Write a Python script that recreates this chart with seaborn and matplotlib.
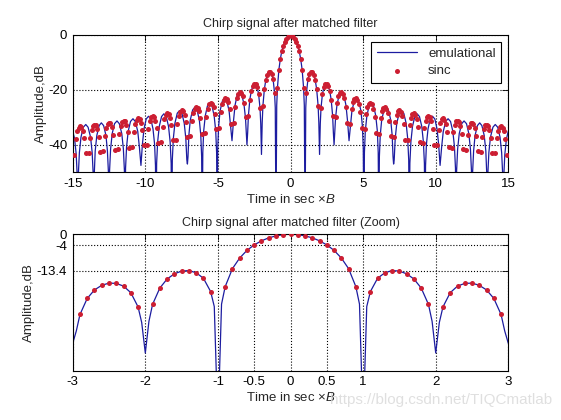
import numpy as np
import matplotlib
matplotlib.use("Agg")
import matplotlib.pyplot as plt
import seaborn as sns

nan = np.nan

# sinc samples (dB) at t = 0.0 .. 14.9, step 0.1 ; integer t are nulls (not drawn)
sinc_rows = [
    [0.0, -0.1, -0.6, -1.3, -2.4, -3.9, -5.9, -8.7, -12.6, -19.2],
    [nan, -21.0, -16.1, -14.1, -13.3, -13.5, -14.5, -16.4, -19.7, -25.7],
    [nan, -26.6, -21.4, -19.0, -18.0, -17.9, -18.7, -20.4, -23.5, -29.4],
    [nan, -30.0, -24.7, -22.2, -21.0, -20.8, -21.5, -23.1, -26.2, -32.0],
    [nan, -32.4, -27.0, -24.5, -23.2, -23.0, -23.6, -25.2, -28.2, -33.9],
    [nan, -34.3, -28.9, -26.3, -25.0, -24.8, -25.3, -26.9, -29.8, -35.6],
    [nan, -35.9, -30.4, -27.8, -26.5, -26.2, -26.8, -28.3, -31.2, -36.9],
    [nan, -37.2, -31.7, -29.0, -27.8, -27.4, -28.0, -29.5, -32.4, -38.1],
    [nan, -38.3, -32.8, -30.2, -28.9, -28.5, -29.1, -30.6, -33.4, -39.1],
    [nan, -39.3, -33.8, -31.2, -29.8, -29.5, -30.0, -31.5, -34.4, -40.1],
    [nan, -40.2, -34.7, -32.0, -30.7, -30.4, -30.9, -32.4, -35.2, -40.9],
    [nan, -41.1, -35.5, -32.8, -31.5, -31.2, -31.7, -33.1, -36.0, -41.7],
    [nan, -41.8, -36.3, -33.6, -32.2, -31.9, -32.4, -33.9, -36.7, -42.4],
    [nan, -42.5, -37.0, -34.3, -32.9, -32.6, -33.1, -34.5, -37.4, -43.0],
    [nan, -43.1, -37.6, -34.9, -33.5, -33.2, -33.7, -35.1, -38.0, -43.6],
]

# emulational curve, t >= 0 (symmetric), read lobe by lobe
emul_pos_t = [
    0.0, 0.1, 0.2, 0.3, 0.4, 0.5, 0.6, 0.7, 0.8, 0.9, 0.95, 1.0,
    1.05, 1.1, 1.2, 1.3, 1.4, 1.5, 1.6, 1.7, 1.8, 1.9, 1.95, 2.0,
    2.05, 2.1, 2.2, 2.3, 2.4, 2.5, 2.6, 2.7, 2.8, 2.9, 2.95, 3.0,
    3.1, 3.21, 3.36, 3.515, 3.67, 3.82, 3.93, 4.03,
    4.13, 4.23, 4.39, 4.54, 4.69, 4.85, 4.95, 5.01, 5.05,
    5.09, 5.15, 5.26, 5.41, 5.57, 5.72, 5.87, 5.98, 6.04, 6.08,
    6.12, 6.18, 6.28, 6.44, 6.59, 6.74, 6.90, 7.00, 7.06, 7.1,
    7.14, 7.21, 7.32, 7.48, 7.64, 7.80, 7.96, 8.07, 8.14, 8.18,
    8.22, 8.29, 8.40, 8.56, 8.72, 8.88, 9.04, 9.15, 9.22, 9.26,
    9.30, 9.36, 9.47, 9.62, 9.78, 9.94, 10.09, 10.20, 10.3,
    10.41, 10.52, 10.69, 10.85, 11.02, 11.18, 11.29, 11.36, 11.4,
    11.44, 11.51, 11.62, 11.79, 11.95, 12.12, 12.28, 12.39, 12.46, 12.5,
    12.54, 12.61, 12.71, 12.87, 13.03, 13.18, 13.34, 13.45, 13.51, 13.55,
    13.59, 13.66, 13.77, 13.94, 14.10, 14.27, 14.43, 14.54, 14.61, 14.65,
    14.69, 14.76, 14.87, 15.0,
]
emul_pos_db = [
    0.0, -0.1, -0.6, -1.3, -2.4, -3.9, -5.9, -8.7, -12.6, -19.2, -25.6, -70,
    -26.5, -21.0, -16.1, -14.1, -13.3, -13.5, -14.5, -16.4, -19.7, -25.7, -31.9, -43.5,
    -32.3, -26.6, -21.4, -19.0, -18.0, -17.9, -18.7, -20.4, -23.5, -29.4, -35.4, -40.0,
    -30.3, -25.0, -21.8, -20.8, -21.8, -25.6, -31.5, -38.5,
    -33.2, -27.6, -24.0, -23.0, -24.0, -27.6, -33.2, -41.0, -70,
    -42.8, -35.0, -29.4, -25.8, -24.8, -25.8, -29.4, -35.0, -42.8, -70,
    -44.3, -36.5, -30.9, -27.3, -26.3, -27.3, -30.9, -36.5, -44.3, -47.0,
    -45.5, -37.7, -32.1, -28.5, -27.5, -28.5, -32.1, -37.7, -45.5, -70,
    -46.7, -38.9, -33.3, -29.7, -28.7, -29.7, -33.3, -38.9, -46.7, -70,
    -47.6, -39.8, -34.2, -30.6, -29.6, -30.6, -34.2, -39.8, -47.5,
    -40.7, -35.1, -31.5, -30.5, -31.5, -35.1, -40.7, -48.5, -70,
    -49.3, -41.5, -35.9, -32.3, -31.3, -32.3, -35.9, -41.5, -49.3, -70,
    -50.0, -42.2, -36.6, -33.0, -32.0, -33.0, -36.6, -42.2, -50.0, -70,
    -50.6, -42.8, -37.2, -33.6, -32.6, -33.6, -37.2, -42.8, -50.6, -70,
    -51.2, -43.4, -37.8, -35.0,
]

sinc_pos = np.array(sinc_rows).ravel()
sinc_t = np.arange(-149, 150) / 10
sinc_db = np.concatenate([sinc_pos[:0:-1], sinc_pos])

ept = np.array(emul_pos_t)
epd = np.array(emul_pos_db)
emul_t = np.concatenate([-ept[:0:-1], ept])
emul_db = np.concatenate([epd[:0:-1], epd])

sns.set_theme(style="white")
plt.rcParams["font.family"] = ["Liberation Sans", "DejaVu Sans"]
plt.rcParams["axes.unicode_minus"] = False
plt.rcParams["mathtext.fontset"] = "custom"
plt.rcParams["mathtext.rm"] = "Liberation Sans"
plt.rcParams["mathtext.it"] = "Liberation Sans:italic"

BLUE = "#1c1ca0"
RED = "#cc1e32"

fig = plt.figure(figsize=(5.61, 4.2), dpi=100)
ax1 = fig.add_axes([0.1296, 0.5898, 0.7765, 0.3269])
ax2 = fig.add_axes([0.1296, 0.1174, 0.7765, 0.3248])


def draw(ax, legend):
    sns.lineplot(x=emul_t, y=emul_db, ax=ax, color=BLUE, lw=0.9,
                 estimator=None, sort=False,
                 label="emulational" if legend else None, legend=False)
    sns.scatterplot(x=sinc_t, y=sinc_db, ax=ax, color=RED, s=13,
                    marker="o", linewidth=0,
                    label="sinc" if legend else None, legend=False, zorder=3)
    ax.set_ylim(-50, 0)
    ax.grid(True, linestyle=":", color="black", lw=0.8)
    ax.tick_params(direction="in", top=True, right=True, length=4,
                   width=0.6, labelsize=9.5, colors="black", pad=4)
    for s in ax.spines.values():
        s.set_color("black")
        s.set_linewidth(0.8)
    ax.set_xlabel(r"Time in sec $\times\mathit{B}$", fontsize=9.5, labelpad=2)
    ax.set_ylabel("Amplitude,dB", fontsize=9.5, labelpad=1)


draw(ax1, True)
ax1.set_xlim(-15, 15)
ax1.set_xticks([-15, -10, -5, 0, 5, 10, 15])
ax1.set_yticks([-40, -20, 0])
ax1.set_title("Chirp signal after matched filter", fontsize=9, pad=6)
leg = ax1.legend(loc="upper right", bbox_to_anchor=(0.983, 0.947),
                 fontsize=9.5, fancybox=False, framealpha=1,
                 edgecolor="black", handlelength=3.1, labelspacing=0.4,
                 borderaxespad=0, markerscale=1.0)
leg.get_frame().set_linewidth(0.8)

draw(ax2, False)
ax2.set_xlim(-3, 3)
ax2.set_xticks([-3, -2, -1, -0.5, 0, 0.5, 1, 2, 3])
ax2.set_xticklabels(["-3", "-2", "-1", "-0.5", "0", "0.5", "1", "2", "3"])
ax2.set_yticks([-13.4, -4, 0])
ax2.set_yticklabels(["-13.4", "-4", "0"])
ax2.set_title("Chirp signal after matched filter (Zoom)", fontsize=9, pad=6)

fig.text(0.984, 0.047, "https://blog.csdn.net/TIQCmatlab", ha="right",
         va="center", fontsize=11, color="#d8d8d8", alpha=0.8)

fig.savefig("out.png", dpi=100, facecolor="white")
